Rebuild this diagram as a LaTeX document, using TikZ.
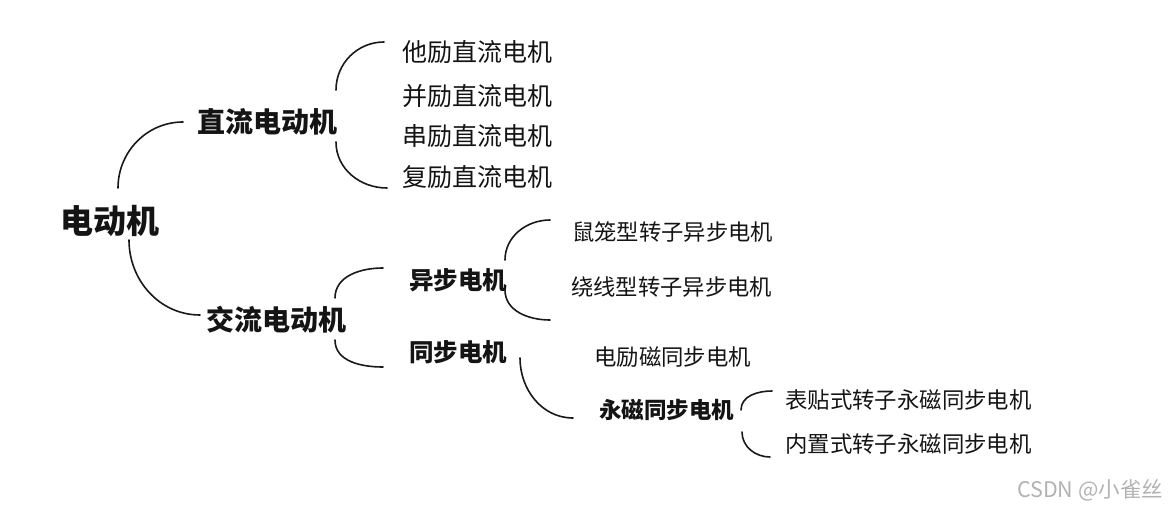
\documentclass[tikz,border=0pt]{standalone}
\usepackage{fontspec}
\setmainfont{Noto Sans CJK SC}
\begin{document}
\begin{tikzpicture}[x=1pt,y=1pt,
  lbl/.style={anchor=west,inner sep=0pt,text=black!92},
  bold/.style={lbl,font=\bfseries\fontsize{#1}{#1}\selectfont},
  leaf/.style={lbl,font=\fontsize{#1}{#1}\selectfont},
  brace/.style={line width=1.6pt,black!90,line cap=round}]
\useasboundingbox (0,0) rectangle (1172,-510);
% nodes
\node[bold=33] (root) at (60,-221) {电动机};
\node[bold=28] (dc) at (197,-122) {直流电动机};
\node[bold=28] (ac) at (206,-320) {交流电动机};
\node[leaf=25] (d1) at (402,-52) {他励直流电机};
\node[leaf=25] (d2) at (402,-96) {并励直流电机};
\node[leaf=25] (d3) at (402,-136) {串励直流电机};
\node[leaf=25] (d4) at (402,-177) {复励直流电机};
\node[bold=24.5] (as) at (409,-280) {异步电机};
\node[bold=24.5] (sy) at (409,-352) {同步电机};
\node[leaf=22.3] (a1) at (572,-232) {鼠笼型转子异步电机};
\node[leaf=22.3] (a2) at (571,-287) {绕线型转子异步电机};
\node[leaf=22.4] (s1) at (594,-357) {电励磁同步电机};
\node[bold=22.5] (pm) at (599,-410) {永磁同步电机};
\node[leaf=22.4] (p1) at (785,-400) {表贴式转子永磁同步电机};
\node[leaf=22.4] (p2) at (785,-444) {内置式转子永磁同步电机};
\node[anchor=west,inner sep=0pt,text=black!30,font=\fontsize{21.5}{21.5}\selectfont] (wm) at (1017,-490) {CSDN @小雀丝};
% bracket end points
\coordinate (r1) at (118,-188); \coordinate (r2) at (183,-122);
\coordinate (r3) at (129,-240); \coordinate (r4) at (200,-315);
\coordinate (c1) at (336,-90);  \coordinate (c2) at (384,-42);
\coordinate (c3) at (336,-142); \coordinate (c4) at (387,-188);
\coordinate (e1) at (335,-298); \coordinate (e2) at (383,-268);
\coordinate (e3) at (335,-340); \coordinate (e4) at (383,-367);
\coordinate (f1) at (505,-260); \coordinate (f2) at (550,-220);
\coordinate (f3) at (505,-290); \coordinate (f4) at (550,-320);
\coordinate (g3) at (520,-358); \coordinate (g4) at (573,-418);
\coordinate (h1) at (741,-410); \coordinate (h2) at (772,-391);
\coordinate (h3) at (742,-432); \coordinate (h4) at (770,-457);
% brackets
\draw[brace] (r1) to[out=90,in=180] (r2);
\draw[brace] (r3) to[out=-90,in=180] (r4);
\draw[brace] (c1) to[out=90,in=180] (c2);
\draw[brace] (c3) to[out=-90,in=180] (c4);
\draw[brace] (e1) to[out=90,in=180] (e2);
\draw[brace] (e3) to[out=-90,in=180] (e4);
\draw[brace] (f1) to[out=90,in=180] (f2);
\draw[brace] (f3) to[out=-90,in=180] (f4);
\draw[brace] (g3) to[out=-90,in=180] (g4);
\draw[brace] (h1) to[out=90,in=180] (h2);
\draw[brace] (h3) to[out=-90,in=180] (h4);
\end{tikzpicture}
\end{document}
